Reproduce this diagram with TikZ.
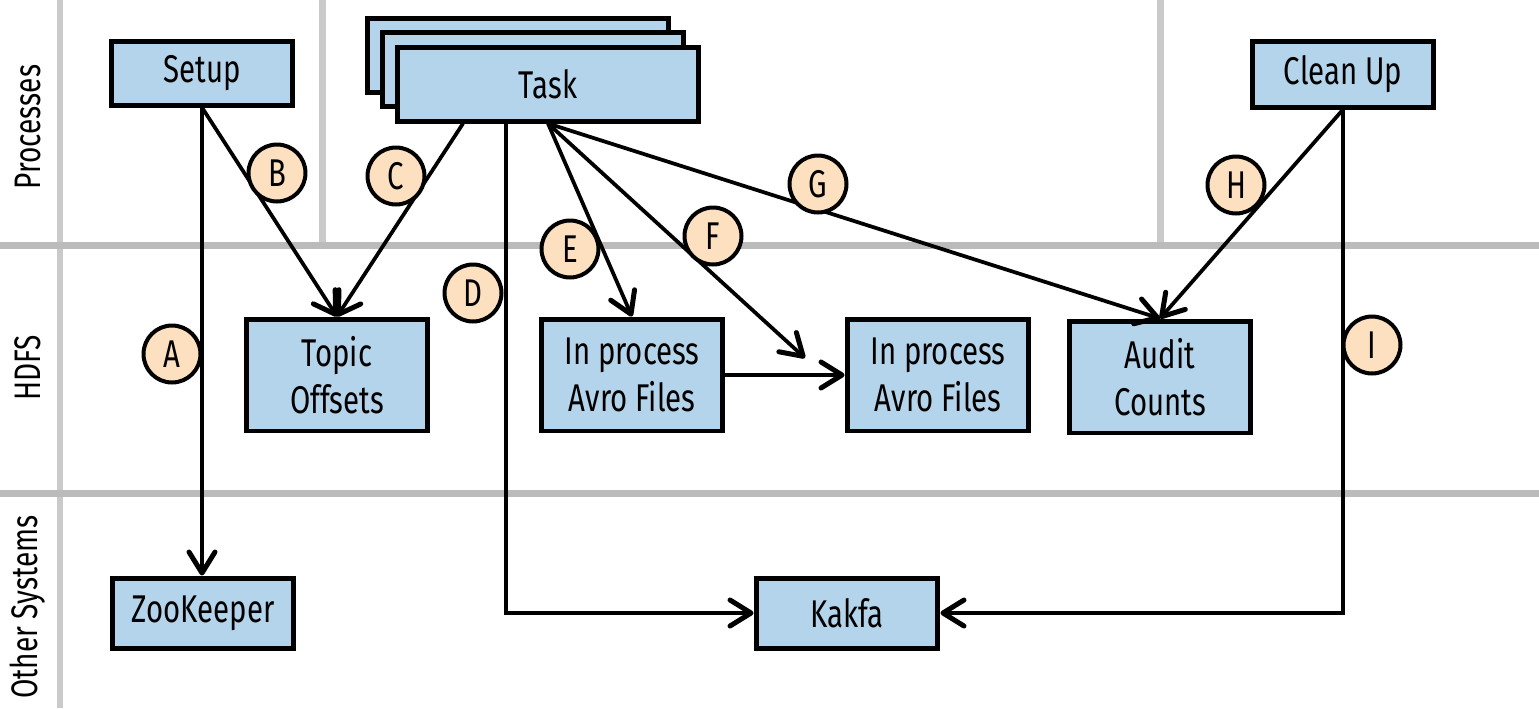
\documentclass[tikz,border=0pt]{standalone}
\usepackage{fontspec}
\setmainfont[FakeStretch=0.76]{Fira Sans}
\usepackage{tikz}
\usetikzlibrary{positioning, calc, arrows.meta}
\usepackage{xcolor}
\definecolor{boxblue}{HTML}{B3D4EA}
\definecolor{tagpeach}{HTML}{FDE0BF}
\definecolor{lanegray}{HTML}{CACACA}
\definecolor{lanedark}{HTML}{BBBBBB}

\begin{document}
\begin{tikzpicture}[
  x=0.02cm, y=-0.02cm,
  lane/.style={draw=lanegray, line width=0.14cm},
  lanelbl/.style={rotate=90, font=\fontsize{21}{24}\selectfont},
  box/.style={draw, fill=boxblue, line width=0.1cm, minimum width=3.64cm, minimum height=1.28cm, align=center, font=\fontsize{22}{27}\selectfont},
  tall/.style={box, minimum height=2.24cm},
  taskbox/.style={box, minimum width=6.04cm, minimum height=1.48cm},
  tag/.style={circle, draw, fill=tagpeach, line width=0.08cm, minimum size=1.14cm, inner sep=0pt, font=\fontsize{22}{24}\selectfont},
  flow/.style={->, line width=0.075cm},
  >={Straight Barb[length=0.42cm, width=0.52cm, line width=0.1cm, round]}
]
  \useasboundingbox (0,0) rectangle (1539,708);

  % Lanes
  \draw[lane] (60,0) -- (60,708);
  \draw[lane] (322,0) -- (322,244);
  \draw[lane] (1160,0) -- (1160,244);
  \draw[lane, draw=lanedark] (0,245) -- (1539,245);
  \draw[lane, draw=lanedark] (0,493) -- (1539,493);
  \node[lanelbl] (lproc) at (28,127) {Processes};
  \node[lanelbl] (lhdfs) at (28,368) {HDFS};
  \node[lanelbl] (lother) at (28,607) {Other Systems};

  % Processes
  \node[box] (setup) at (202,73) {Setup};
  \node[taskbox] (task3) at (518,55) {};
  \node[taskbox] (task2) at (533,69) {};
  \node[taskbox] (task) at (548,84) {Task};
  \node[box, minimum height=1.32cm] (cleanup) at (1343,74) {Clean Up};

  % HDFS
  \node[tall] (offsets) at (337,375) {Topic\\Offsets};
  \node[tall] (avro1) at (632,375) {In process\\Avro Files};
  \node[tall] (avro2) at (938,375) {In process\\Avro Files};
  \node[tall] (audit) at (1160,377) {Audit\\Counts};

  % Other systems
  \node[box, minimum height=1.4cm] (zk) at (203,613) {ZooKeeper};
  \node[box, minimum height=1.4cm] (kafka) at (847,613) {Kakfa};

  % Arrows
  \coordinate (fend) at (805,358);
  \draw[flow] (setup.south) -- (setup.south |- zk.north);
  \draw[flow] (setup.south) -- (offsets.north);
  \draw[flow] ([xshift=-1.7cm]task.south) -- (offsets.north);
  \draw[flow] ([xshift=-0.84cm]task.south) |- (kafka.west);
  \draw[flow] (task.south) -- (avro1.north);
  \draw[flow] (task.south) -- (fend);
  \draw[flow] (task.south) -- (audit.north);
  \draw[flow] (cleanup.south) -- (audit.north);
  \draw[flow] (cleanup.south) |- (kafka.east);
  \draw[flow] (avro1.east) -- (avro2.west);

  % Step tags
  \foreach \t/\x/\y in {A/172/354, B/277/173, C/396/176, D/473/293, E/570/249, F/713/236, G/818/184, H/1236/185, I/1372/345} {
    \node[tag] (tag\t) at (\x,\y) {\t};
  }
\end{tikzpicture}
\end{document}
